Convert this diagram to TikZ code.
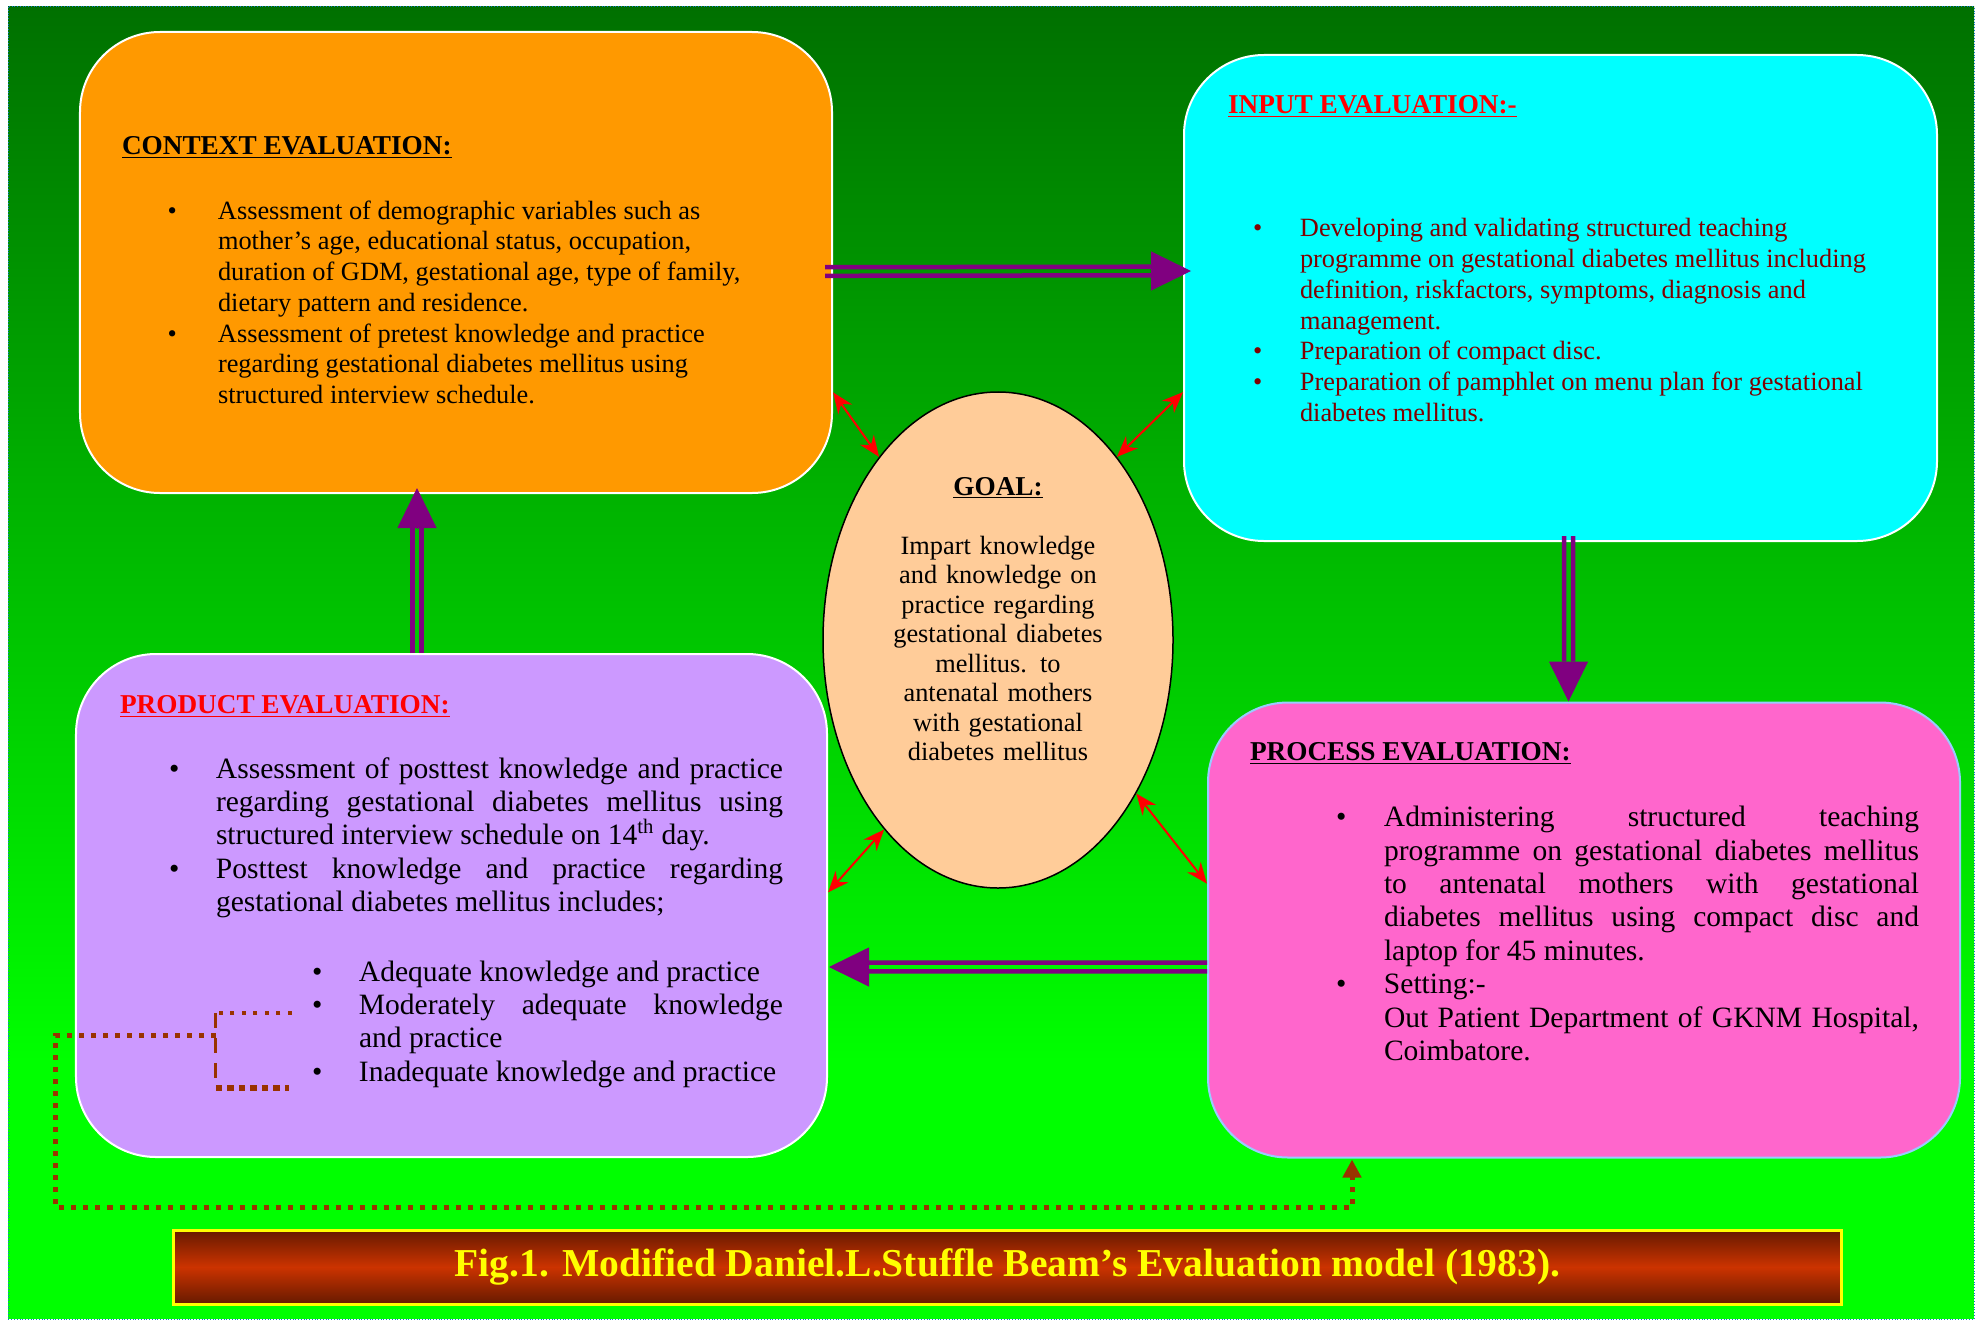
\documentclass[tikz,border=0pt]{standalone}
\usepackage{fontspec}
\setmainfont{Liberation Serif}
\usetikzlibrary{shapes.geometric,arrows.meta,calc}

\definecolor{ctxorange}{HTML}{FF9900}
\definecolor{inpcyan}{HTML}{00FFFF}
\definecolor{prodlilac}{HTML}{CC99FF}
\definecolor{procpink}{HTML}{FF66CC}
\definecolor{goalpeach}{HTML}{FFCC99}
\definecolor{pipeviolet}{HTML}{800080}
\definecolor{inpmaroon}{HTML}{800000}
\definecolor{dotbrown}{HTML}{993300}
\definecolor{bgdark}{RGB}{0,112,0}
\definecolor{bglime}{HTML}{00FF00}
\definecolor{capdark}{HTML}{661A00}
\definecolor{capmid}{HTML}{CC3300}
\definecolor{capyellow}{HTML}{FFFF00}
\definecolor{procrim}{HTML}{99CCFF}

\setlength\parindent{0pt}
\hbadness=10000

\newcommand\evalhead{\fontsize{15.5}{17.5}\selectfont\bfseries}
\newcommand\evalbody{\fontsize{15}{17.5}\selectfont}
\newcommand\evalbodyl{\fontsize{16.8}{19}\selectfont}
\newcommand\goalfont{\fontsize{15}{16.8}\selectfont}
\newcommand\capfont{\fontsize{22.5}{26}\selectfont\bfseries}
% bullet item: #1 = bullet offset, #2 = text indent
\newcommand\bitem[2]{\par\hangindent=#2\hangafter=1\noindent\makebox[#2][l]{\hspace{#1}\textbullet}\ignorespaces}

\tikzset{
  evalbox/.style={draw=white, line width=0.4mm, rounded corners=16mm, inner sep=0pt, minimum width=150.4mm},
  evaltext/.style={anchor=base west, inner sep=0pt, outer sep=0pt},
  goal/.style={ellipse, draw=black, line width=0.3mm, fill=goalpeach, inner sep=0pt, minimum width=70mm, minimum height=99.2mm},
  pipe/.style={draw=pipeviolet, line width=0.9mm},
  pipehead/.style={draw=pipeviolet, fill=pipeviolet, line width=0.2mm, -{Triangle[length=8mm,width=7.8mm]}},
  goallink/.style={draw=red, line width=0.4mm, <->, >={Stealth[length=4.2mm,width=3.4mm]}},
  feedback/.style={draw=dotbrown, line width=1mm, dash pattern=on 1mm off 1.4mm, -{Triangle[length=3.6mm,width=3.6mm]}},
  bracketdot/.style={draw=dotbrown, line width=0.8mm, dash pattern=on 0.8mm off 1.5mm},
  bracketdash/.style={draw=dotbrown, line width=0.6mm, dash pattern=on 3mm off 2mm},
  bracketfat/.style={draw=dotbrown, line width=1.3mm, dash pattern=on 1.3mm off 1mm},
  capbar/.style={draw=capyellow, line width=0.6mm, top color=capdark, bottom color=capdark, middle color=capmid, inner sep=0pt, minimum width=333.4mm, minimum height=14.8mm, text=capyellow, font=\capfont},
  panelrim/.style={draw=cyan!60!blue, line width=0.2mm, densely dotted},
}

\begin{document}
\begin{tikzpicture}[x=0.2mm,y=-0.2mm]
\fill[white] (0,0) rectangle (1980,1321);
\useasboundingbox (0,0) rectangle (1980,1321);
% green background panel
\shade[top color=bgdark, bottom color=bglime] (8,7) rectangle (1974,1061);
\fill[bglime] (8,1060) rectangle (1974,1319);
\draw[panelrim] (8,7) rectangle (1974,1319);

% the four boxes and the goal
\node[evalbox, fill=ctxorange, minimum height=92.2mm] (context) at (456,262.5) {};
\node[evalbox, fill=inpcyan, minimum width=150.6mm, minimum height=97.2mm] (input) at (1560.5,298) {};
\node[evalbox, fill=prodlilac, minimum width=150.2mm, minimum height=100.6mm] (product) at (451.5,905.5) {};
\node[evalbox, draw=procrim, fill=procpink, minimum height=91mm] (process) at (1584,930) {};
\node[goal] (goal) at (998,640) {};

% box texts
\node[evaltext, text width=150mm, align=flush left, font=\evalbody] (context-text) at (122,154) {%
  {\evalhead\underline{CONTEXT EVALUATION:}}\par\vspace{19.5pt}
  \bitem{9.1mm}{19.2mm}Assessment of demographic variables such as\linebreak mother’s age, educational status, occupation,\linebreak duration of GDM, gestational age, type of family,\linebreak dietary pattern and residence.
  \bitem{9.1mm}{19.2mm}Assessment of pretest knowledge and practice\linebreak regarding gestational diabetes mellitus using\linebreak structured interview schedule.\par};

\node[evaltext, text width=145mm, align=flush left, font=\evalbody, text=inpmaroon] (input-text) at (1228,113) {%
  {\evalhead\color{red}\underline{INPUT EVALUATION:-}}\par\vspace{53pt}
  \bitem{5mm}{14.4mm}Developing and validating structured teaching\linebreak programme on gestational diabetes mellitus including\linebreak definition, riskfactors, symptoms, diagnosis and\linebreak management.
  \bitem{5mm}{14.4mm}Preparation of compact disc.
  \bitem{5mm}{14.4mm}Preparation of pamphlet on menu plan for gestational\linebreak diabetes mellitus.\par};

\node[evaltext, text width=132.6mm, align=justify, font=\evalbodyl] (product-text) at (120,713) {%
  {\evalhead\color{red}\underline{PRODUCT EVALUATION:}}\par\vspace{18pt}
  \bitem{9.8mm}{19.2mm}Assessment of posttest knowledge and practice\linebreak regarding gestational diabetes mellitus using\linebreak structured interview schedule on 14\textsuperscript{th} day.
  \bitem{9.8mm}{19.2mm}Posttest knowledge and practice regarding\linebreak gestational diabetes mellitus includes;
  \par\vspace{20.5pt}
  \bitem{38.4mm}{47.8mm}Adequate knowledge and practice
  \bitem{38.4mm}{47.8mm}Moderately adequate knowledge\linebreak and practice
  \bitem{38.4mm}{47.8mm}Inadequate knowledge and practice\par};

\node[evaltext, text width=133.8mm, align=justify, font=\evalbodyl] (process-text) at (1250,760) {%
  {\evalhead\underline{PROCESS EVALUATION:}}\par\vspace{19pt}
  \bitem{17.2mm}{26.8mm}Administering structured teaching\linebreak programme on gestational diabetes mellitus\linebreak to antenatal mothers with gestational\linebreak diabetes mellitus using compact disc and\linebreak laptop for 45 minutes.
  \bitem{17.2mm}{26.8mm}Setting:-\newline Out Patient Department of GKNM Hospital,\linebreak Coimbatore.\par};

\node[anchor=base, inner sep=0pt, text width=62mm, align=center, font=\goalfont] (goal-text) at (998,495) {%
  {\fontsize{15.5}{17}\selectfont\bfseries\underline{GOAL:}}\par\vspace{16.8pt}
  Impart knowledge\\ and knowledge on\\ practice regarding\\ gestational diabetes\\ mellitus. to\\ antenatal mothers\\ with gestational\\ diabetes mellitus};

% double arrows between the boxes
\coordinate (ci-tail) at ($(context.east)+(-8,9)$);
\coordinate (ci-tip) at ($(input.west)+(8,-27)$);
\coordinate (ci-base) at ($(ci-tip)+(-40,0)$);
\draw[pipe] ([yshift=0.86mm]ci-tail) -- ([yshift=0.86mm]ci-base);
\draw[pipe] ([yshift=-0.86mm]ci-tail) -- ([yshift=-0.86mm]ci-base);
\draw[pipehead] (ci-base) -- (ci-tip);

\coordinate (ip-tail) at ($(input.south)+(8,-6)$);
\coordinate (ip-tip) at ($(process.north)+(-15.5,0)$);
\coordinate (ip-base) at ($(ip-tip)+(0,-40)$);
\draw[pipe] ([xshift=0.9mm]ip-tail) -- ([xshift=0.9mm]ip-base);
\draw[pipe] ([xshift=-0.9mm]ip-tail) -- ([xshift=-0.9mm]ip-base);
\draw[pipehead] (ip-base) -- (ip-tip);

\coordinate (pp-tail) at ($(process.west)+(0,37)$);
\coordinate (pp-tip) at ($(product.east)+(1,61.5)$);
\coordinate (pp-base) at ($(pp-tip)+(38,0)$);
\draw[pipe] ([yshift=0.86mm]pp-tail) -- ([yshift=0.86mm]pp-base);
\draw[pipe] ([yshift=-0.86mm]pp-tail) -- ([yshift=-0.86mm]pp-base);
\draw[pipehead] (pp-base) -- (pp-tip);

\coordinate (pc-tail) at ($(product.north)+(-34.5,0)$);
\coordinate (pc-tip) at ($(context.south)+(-39,-6)$);
\coordinate (pc-base) at ($(pc-tip)+(0,40)$);
\draw[pipe] ([xshift=0.92mm]pc-tail) -- ([xshift=0.92mm]pc-base);
\draw[pipe] ([xshift=-0.92mm]pc-tail) -- ([xshift=-0.92mm]pc-base);
\draw[pipehead] (pc-base) -- (pc-tip);

% links to the goal
\draw[goallink] (context.-19) -- (goal.123.5);
\draw[goallink] (input.194) -- (goal.57.4);
\draw[goallink] (product.2) -- (goal.239);
\draw[goallink] (process.173.5) -- (goal.312);

% feedback from the product levels to the process
\coordinate (mod-end) at ($(product.south west)+(217,-145)$);
\coordinate (inad-end) at ($(product.south west)+(214,-70)$);
\coordinate (brk-top) at ($(product.south west)+(141,-145)$);
\coordinate (brk-bot) at ($(product.south west)+(141,-70)$);
\coordinate (brk-mid) at ($(product.south west)+(141,-123)$);
\coordinate (fb-tip) at ($(process.south)+(-232,1)$);
\draw[bracketdot] (mod-end) -- (brk-top);
\draw[bracketdash] (brk-top) -- (brk-bot);
\draw[bracketfat] (brk-bot) -- (inad-end);
\draw[feedback] (brk-mid) -- ++(-160,0) |- ($(fb-tip)+(0,48)$) -- (fb-tip);

% caption
\node[capbar] (caption) at (1007.5,1267) {Fig.1. Modified Daniel.L.Stuffle Beam’s Evaluation model (1983).};
\end{tikzpicture}
\end{document}
